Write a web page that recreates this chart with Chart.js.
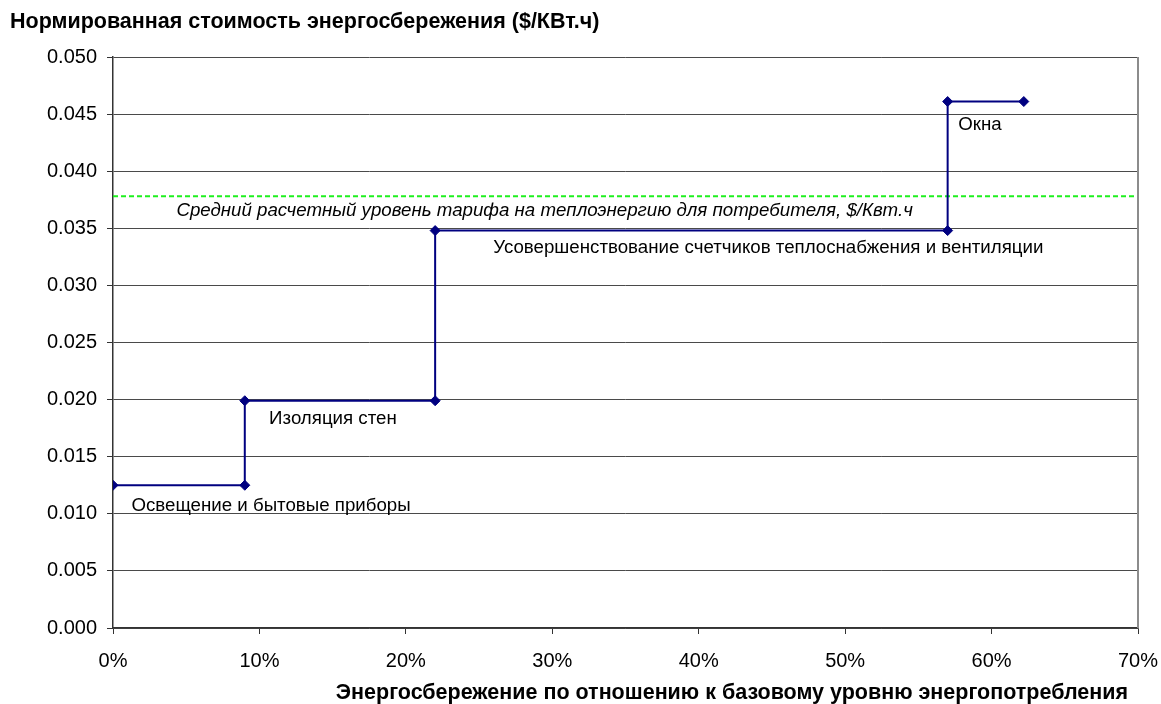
<!DOCTYPE html>
<html>
<head>
<meta charset="utf-8">
<script src="https://cdn.jsdelivr.net/npm/chart.js@4/dist/chart.umd.min.js"></script>
<style>
  html, body { margin: 0; padding: 0; background: #ffffff; }
  #wrap { width: 1161px; height: 704px; }
</style>
</head>
<body>
<div id="wrap"><canvas id="c" width="1161" height="704"></canvas></div>
<script>
// Cumulative energy saving (share of baseline consumption) at each step edge
const savingShare = [0, 0.09, 0.09, 0.22, 0.22, 0.57, 0.57, 0.622];
// Levelized cost of saved energy, $/kWh, at each step edge
const costPerKwh = [0.0125, 0.0125, 0.0199, 0.0199, 0.0348, 0.0348, 0.0461, 0.0461];
// Average heat tariff for the consumer, $/kWh
const tariffLevel = 0.0378;
const tariffRange = [0, 0.70];

const measureNames = [
  'Освещение и бытовые приборы',
  'Изоляция стен',
  'Усовершенствование счетчиков теплоснабжения и вентиляции',
  'Окна'
];
const tariffName = 'Средний расчетный уровень тарифа на теплоэнергию для потребителя, $/Квт.ч';

const yTicks = [0, 0.005, 0.01, 0.015, 0.02, 0.025, 0.03, 0.035, 0.04, 0.045, 0.05];
const xTicks = [0, 0.1, 0.2, 0.3, 0.4, 0.5, 0.6, 0.7];

const FONT = '"Liberation Sans", Arial, sans-serif';

// Text labels placed in data space (left edge, baseline)
const labelSpots = [
  { text: measureNames[0], x: 0.0126, y: 0.01027, italic: false },
  { text: measureNames[1], x: 0.1066, y: 0.01786, italic: false },
  { text: tariffName,      x: 0.0433, y: 0.0361,  italic: true  },
  { text: measureNames[2], x: 0.2597, y: 0.03284, italic: false },
  { text: measureNames[3], x: 0.5772, y: 0.04357, italic: false }
];

const textPlugin = {
  id: 'chartText',
  afterDraw(chart) {
    const ctx = chart.ctx;
    const xs = chart.scales.x, ys = chart.scales.y;
    const area = chart.chartArea;
    ctx.save();
    // plot frame on the right side
    ctx.strokeStyle = '#8c8c8c';
    ctx.lineWidth = 2;
    ctx.beginPath();
    ctx.moveTo(area.right, area.top);
    ctx.lineTo(area.right, area.bottom);
    ctx.stroke();

    ctx.fillStyle = '#000000';
    ctx.textBaseline = 'alphabetic';
    ctx.textAlign = 'left';
    labelSpots.forEach(l => {
      ctx.font = (l.italic ? 'italic ' : '') + '18.7px ' + FONT;
      ctx.fillText(l.text, xs.getPixelForValue(l.x), ys.getPixelForValue(l.y));
    });

    // axis titles
    ctx.font = 'bold 21.5px ' + FONT;
    ctx.textAlign = 'left';
    ctx.fillText('Нормированная стоимость энергосбережения ($/КВт.ч)', 10, 28);
    ctx.textAlign = 'right';
    ctx.fillText('Энергосбережение по отношению к базовому уровню энергопотребления', 1128, 699);
    ctx.restore();
  }
};

const points = savingShare.map((x, i) => ({ x, y: costPerKwh[i] }));
const tariffLine = tariffRange.map(x => ({ x, y: tariffLevel }));

new Chart(document.getElementById('c'), {
  type: 'line',
  data: {
    datasets: [
      {
        data: tariffLine,
        borderColor: '#1ef01e',
        borderWidth: 2,
        borderDash: [5, 3],
        pointRadius: 0,
        fill: false,
        order: 2
      },
      {
        data: points,
        borderColor: '#000080',
        backgroundColor: '#000080',
        borderWidth: 2,
        pointStyle: 'rectRot',
        pointRadius: 5,
        pointBorderWidth: 1,
        pointBackgroundColor: '#000080',
        pointBorderColor: '#000080',
        tension: 0,
        fill: false,
        order: 1
      }
    ]
  },
  options: {
    responsive: false,
    animation: false,
    devicePixelRatio: 1,
    layout: { padding: { left: 0, top: 57, right: 23, bottom: 0 } },
    plugins: {
      legend: { display: false },
      tooltip: { enabled: false },
      title: { display: false }
    },
    scales: {
      x: {
        type: 'linear',
        min: 0,
        max: 0.7,
        afterFit(s) { s.height = 76; s.paddingLeft = 0; s.paddingRight = 0; },
        afterBuildTicks(s) { s.ticks = xTicks.map(v => ({ value: v })); },
        ticks: {
          color: '#000000',
          font: { family: FONT, size: 20 },
          padding: 15,
          maxRotation: 0,
          callback: v => Math.round(v * 100) + '%'
        },
        grid: {
          drawOnChartArea: false,
          drawTicks: true,
          tickLength: 6,
          tickColor: '#333333'
        },
        border: { color: '#333333', width: 1.5 }
      },
      y: {
        type: 'linear',
        min: 0,
        max: 0.05,
        afterFit(s) { s.width = 113; s.paddingTop = 0; s.paddingBottom = 0; },
        afterBuildTicks(s) { s.ticks = yTicks.map(v => ({ value: v })); },
        ticks: {
          color: '#000000',
          font: { family: FONT, size: 20 },
          padding: 10,
          callback: v => v.toFixed(3)
        },
        grid: {
          color: '#4a4a4a',
          lineWidth: 1,
          drawTicks: true,
          tickLength: 6,
          tickColor: '#333333'
        },
        border: { color: '#333333', width: 1.5 }
      }
    }
  },
  plugins: [textPlugin]
});
</script>
</body>
</html>
